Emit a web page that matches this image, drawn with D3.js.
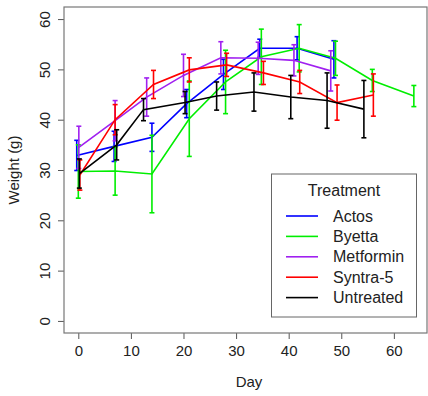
<!DOCTYPE html>
<html>
<head>
<meta charset="utf-8">
<script src="https://cdn.jsdelivr.net/npm/d3@7"></script>
<style>
  html, body { margin: 0; padding: 0; background: #fff; }
  svg { display: block; font-family: "Liberation Sans", Arial, sans-serif; }
</style>
</head>
<body>
<svg width="428" height="396"></svg>
<script>
var treatments = ["Actos", "Byetta", "Metformin", "Syntra-5", "Untreated"];
var colors = ["#0000ff", "#00ee00", "#a020f0", "#ff0000", "#000000"];

// day (dodged), mean weight, error
var actosDay = [-0.3, 6.8, 14, 20.6, 27.6, 34.5, 41.6, 48.6];
var actosMean = [32.9, 34.7, 36.5, 43.2, 49, 54.2, 54.2, 52];
var actosErr = [3, 3, 2.8, 2.8, 3, 1.8, 2.3, 3.7];

var byettaDay = [0, 7, 14, 21.1, 28, 34.8, 42, 48.9, 55.9, 63.8];
var byettaMean = [29.7, 29.8, 29.2, 40.2, 47.5, 52.5, 54.2, 52.2, 47.8, 44.7];
var byettaErr = [5.3, 4.8, 7.7, 7.5, 6.3, 5.5, 4.7, 3.4, 2.2, 2.1];

var metforminDay = [0.1, 7, 13, 20, 27.1, 34.2, 41, 48];
var metforminMean = [34.5, 39.8, 44.5, 48.8, 52.3, 52.2, 51.8, 49.7];
var metforminErr = [4.2, 4, 3.8, 4.2, 3.2, 3.2, 3.1, 4];

var syntraDay = [0.3, 7, 14.3, 21.1, 28.2, 35.2, 42.1, 49.2, 56.1];
var syntraMean = [29, 40, 47, 49.9, 50.9, 49.3, 47.5, 43.4, 44.9];
var syntraErr = [3, 3, 2.8, 2.4, 2.3, 2.3, 2.3, 3.5, 4.2];

var untreatedDay = [0.2, 7.3, 12.4, 20.3, 26.3, 33.4, 40.4, 47.3, 54.3];
var untreatedMean = [29.3, 35, 42, 43.4, 44.7, 45.5, 44.5, 43.8, 42.1];
var untreatedErr = [2.9, 3, 2.2, 2.2, 2.8, 3.8, 4.3, 5.5, 5.7];

var xTicks = [0, 10, 20, 30, 40, 50, 60];
var yTicks = [0, 10, 20, 30, 40, 50, 60];

function rows(days, means, errs) {
  return days.map(function (d, i) { return { day: d, mean: means[i], err: errs[i] }; });
}

var series = [
  rows(actosDay, actosMean, actosErr),
  rows(byettaDay, byettaMean, byettaErr),
  rows(metforminDay, metforminMean, metforminErr),
  rows(syntraDay, syntraMean, syntraErr),
  rows(untreatedDay, untreatedMean, untreatedErr)
];

var plotLeft = 64, plotRight = 427, plotTop = 7, plotBottom = 333;

var svg = d3.select('svg');

var x = d3.scaleLinear().domain([-2.72, 66.3]).range([plotLeft, plotRight]);
var y = d3.scaleLinear().domain([-2.4, 62.4]).range([plotBottom, plotTop]);

var axisColor = "#555";
var textColor = "#222";

// x axis
var xAxis = svg.append("g")
  .attr("transform", "translate(0," + plotBottom + ")")
  .call(d3.axisBottom(x).tickValues(xTicks).tickSize(6).tickPadding(6));
xAxis.select(".domain").remove();
xAxis.selectAll("line").attr("stroke", axisColor);
xAxis.selectAll("text").attr("fill", textColor).style("font-size", "15px");

// y axis, labels rotated like R
var yAxis = svg.append("g")
  .attr("transform", "translate(" + plotLeft + ",0)")
  .call(d3.axisLeft(y).tickValues(yTicks).tickSize(6).tickPadding(0));
yAxis.select(".domain").remove();
yAxis.selectAll("line").attr("stroke", axisColor);
yAxis.selectAll("text")
  .attr("fill", textColor)
  .style("font-size", "15px")
  .attr("x", 0).attr("dy", null)
  .attr("text-anchor", "middle")
  .attr("dominant-baseline", "central")
  .attr("transform", "translate(-20,0) rotate(-90)");

// plot box
svg.append("rect")
  .attr("x", plotLeft).attr("y", plotTop)
  .attr("width", plotRight - plotLeft).attr("height", plotBottom - plotTop)
  .attr("fill", "none").attr("stroke", "#777").attr("stroke-width", 1.2);

// axis titles
svg.append("text")
  .attr("x", 249).attr("y", 387)
  .attr("text-anchor", "middle")
  .attr("fill", textColor)
  .style("font-size", "15px")
  .text("Day");

svg.append("text")
  .attr("transform", "translate(19,170) rotate(-90)")
  .attr("text-anchor", "middle")
  .attr("fill", textColor)
  .style("font-size", "15px")
  .text("Weight (g)");

var line = d3.line()
  .x(function (d) { return x(d.day); })
  .y(function (d) { return y(d.mean); });

var plot = svg.append("g");

series.forEach(function (s, i) {
  var g = plot.append("g").attr("stroke", colors[i]).attr("fill", "none").attr("stroke-width", 1.6);
  g.append("path").attr("d", line(s));
  var bars = g.selectAll("g.bar").data(s).enter().append("g").attr("class", "bar");
  bars.append("line")
    .attr("x1", function (d) { return x(d.day); })
    .attr("x2", function (d) { return x(d.day); })
    .attr("y1", function (d) { return y(d.mean + d.err); })
    .attr("y2", function (d) { return y(d.mean - d.err); });
  bars.append("line")
    .attr("x1", function (d) { return x(d.day) - 2.5; })
    .attr("x2", function (d) { return x(d.day) + 2.5; })
    .attr("y1", function (d) { return y(d.mean + d.err); })
    .attr("y2", function (d) { return y(d.mean + d.err); });
  bars.append("line")
    .attr("x1", function (d) { return x(d.day) - 2.5; })
    .attr("x2", function (d) { return x(d.day) + 2.5; })
    .attr("y1", function (d) { return y(d.mean - d.err); })
    .attr("y2", function (d) { return y(d.mean - d.err); });
});

// legend
var legend = svg.append("g");
legend.append("rect")
  .attr("x", 271.5).attr("y", 174)
  .attr("width", 145).attr("height", 143)
  .attr("fill", "#fff").attr("stroke", "#666").attr("stroke-width", 1);
legend.append("text")
  .attr("x", 344).attr("y", 196)
  .attr("text-anchor", "middle")
  .attr("fill", textColor)
  .style("font-size", "16px")
  .text("Treatment");

var items = legend.selectAll("g.item").data(treatments).enter().append("g")
  .attr("transform", function (d, i) { return "translate(0," + (216 + i * 20.4) + ")"; });
items.append("line")
  .attr("x1", 286).attr("x2", 318)
  .attr("stroke", function (d, i) { return colors[i]; })
  .attr("stroke-width", 1.6);
items.append("text")
  .attr("x", 333).attr("y", 0)
  .attr("dominant-baseline", "central")
  .attr("fill", textColor)
  .style("font-size", "16px")
  .text(function (d) { return d; });
</script>
</body>
</html>
